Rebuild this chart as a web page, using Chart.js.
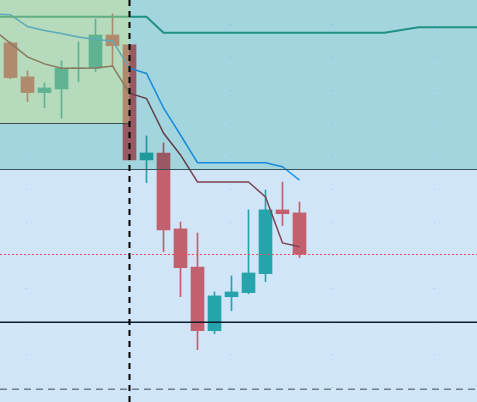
<!DOCTYPE html>
<html><head><meta charset="utf-8">
<script src="https://cdn.jsdelivr.net/npm/chart.js@4.4.1/dist/chart.umd.min.js"></script>
<style>html,body{margin:0;padding:0;background:#d0e6f8;overflow:hidden}canvas{display:block}</style>
</head><body>
<canvas id="c" width="477" height="402"></canvas>
<script>
// ---- data (price units) ----
const candleIndex = [0,1,2,3,4,5,6,7,8,9,10,11,12,13,14,15,16,17];
const openPrice  = [120.85,118.79,117.84,118.06,119.32,119.32,121.33,120.73,113.76,114.18,109.58,107.27,103.41,105.47,105.72,106.87,110.73,110.55];
const highPrice  = [120.91,119.15,118.42,119.76,120.91,122.30,122.61,120.73,115.21,114.79,110.00,109.33,105.76,106.73,110.73,111.94,112.42,111.21];
const lowPrice   = [118.68,117.29,116.93,116.28,118.50,119.11,119.41,113.76,112.38,108.20,105.47,102.26,103.23,104.62,105.65,106.38,109.78,107.84];
const closePrice = [118.75,117.84,118.12,119.32,119.34,121.33,120.68,113.76,114.18,109.52,107.23,103.41,105.52,105.76,106.91,110.73,110.50,108.04];

const lineIndex  = [-1,0,1,2,3,4,5,6,7,8,9,10,11,12,13,14,15,16,17];
const blueLine   = [122.61,122.55,121.84,121.60,121.42,121.21,121.06,120.97,119.32,119.00,116.91,115.27,113.59,113.59,113.59,113.59,113.59,113.35,112.53];
const brownLine  = [121.65,120.82,120.00,119.58,119.32,119.32,119.33,119.45,117.80,117.48,115.39,114.06,112.42,112.42,112.42,112.42,111.52,108.73,108.50];

const stepIndex  = [-1,8,9,22,24,29];
const stepLine   = [122.44,122.44,121.47,121.47,121.80,121.80];

const regionBoundary = 113.19;   // top shaded zone lower edge
const boxBottom      = 115.98;   // green box lower edge
const boxRightIndex  = 7;        // green box right edge
const markerIndex    = 7;        // vertical dashed marker
const supportLevel   = 103.92;   // solid dark level
const lastCloseLevel = 108.04;   // red dotted level
const lowerLevel     = 99.86;    // grey dashed level

const xGridIndex = [1,7,13,19,25];
const yGridTicks = [100,102,104,106,108,110,112,114,116,118,120,122];

const xMin = -0.6176470588, xMax = 27.4411764706;
const yMin = 99.09, yMax = 123.45;

const bull = '#26a4ac', bear = '#c3606e';
const candleColors = candleIndex.map((_, i) => closePrice[i] >= openPrice[i] ? bull : bear);

const bodies = candleIndex.map((x, i) => ({x, y: [openPrice[i], closePrice[i]]}));
const wicks  = candleIndex.map((x, i) => ({x, y: [lowPrice[i], highPrice[i]]}));

const decor = {
  id: 'decor',
  beforeDraw(chart) {
    const {ctx, width, height} = chart;
    ctx.save();
    ctx.fillStyle = '#d0e6f8';
    ctx.fillRect(0, 0, width, height);
    ctx.restore();
  },
  beforeDatasetsDraw(chart) {
    const {ctx, scales: {x, y}} = chart;
    ctx.save();
    ctx.fillStyle = 'rgba(110,190,205,0.55)';
    xGridIndex.forEach(gx => {
      const px = Math.round(x.getPixelForValue(gx));
      yGridTicks.forEach(gy => {
        const py = Math.round(y.getPixelForValue(gy));
        ctx.fillRect(px - 1, py, 1, 1);
      });
    });
    ctx.restore();
  },
  afterDatasetsDraw(chart) {
    const {ctx, chartArea: a, scales: {x, y}} = chart;
    ctx.save();
    const yb = y.getPixelForValue(regionBoundary);
    ctx.globalCompositeOperation = 'multiply';
    ctx.fillStyle = 'rgb(199,236,229)';
    ctx.fillRect(a.left, a.top, a.width, yb - a.top);
    ctx.globalCompositeOperation = 'source-over';
    const bx = x.getPixelForValue(boxRightIndex);
    const by = y.getPixelForValue(boxBottom);
    ctx.fillStyle = 'rgba(219,228,127,0.35)';
    ctx.fillRect(a.left, a.top, bx - a.left, by - a.top);

    const hline = (py, color, w, dash) => {
      ctx.beginPath();
      ctx.strokeStyle = color; ctx.lineWidth = w; ctx.setLineDash(dash || []);
      ctx.moveTo(a.left, py); ctx.lineTo(a.right, py); ctx.stroke();
    };
    ctx.beginPath();
    ctx.strokeStyle = '#3b4f47'; ctx.lineWidth = 1; ctx.setLineDash([]);
    ctx.moveTo(a.left, Math.round(by) + 0.5); ctx.lineTo(bx, Math.round(by) + 0.5); ctx.stroke();
    hline(Math.round(yb) + 0.5, '#37545a', 1);
    hline(y.getPixelForValue(supportLevel), '#0e1c2c', 1.5);
    hline(Math.round(y.getPixelForValue(lastCloseLevel)) + 0.5, '#e0525f', 1, [2, 2]);
    hline(y.getPixelForValue(lowerLevel), '#6e7e8f', 1.5, [7, 5]);
    const mx = x.getPixelForValue(markerIndex);
    ctx.beginPath();
    ctx.strokeStyle = '#000'; ctx.lineWidth = 2; ctx.setLineDash([6, 5]);
    ctx.moveTo(mx, a.top); ctx.lineTo(mx, a.bottom); ctx.stroke();
    ctx.restore();
  }
};

new Chart(document.getElementById('c'), {
  data: {
    datasets: [
      {type: 'bar', data: wicks, backgroundColor: candleColors, barThickness: 1, grouped: false, borderWidth: 0, borderSkipped: false, order: 3},
      {type: 'bar', data: bodies, backgroundColor: candleColors, barThickness: 13, grouped: false, borderWidth: 0, borderSkipped: false, order: 2},
      {type: 'line', data: stepIndex.map((x, i) => ({x, y: stepLine[i]})), borderColor: '#2a9d95', borderWidth: 2, pointRadius: 0, tension: 0, order: 1},
      {type: 'line', data: lineIndex.map((x, i) => ({x, y: blueLine[i]})), borderColor: '#2196f3', borderWidth: 1.5, pointRadius: 0, tension: 0, order: 1},
      {type: 'line', data: lineIndex.map((x, i) => ({x, y: brownLine[i]})), borderColor: '#7b4452', borderWidth: 1.5, pointRadius: 0, tension: 0, order: 1}
    ]
  },
  options: {
    responsive: false,
    animation: false,
    devicePixelRatio: 1,
    layout: {padding: 0},
    plugins: {legend: {display: false}, tooltip: {enabled: false}},
    scales: {
      x: {type: 'linear', min: xMin, max: xMax, offset: false, display: false},
      y: {type: 'linear', min: yMin, max: yMax, display: false}
    }
  },
  plugins: [decor]
});
</script>
</body></html>
